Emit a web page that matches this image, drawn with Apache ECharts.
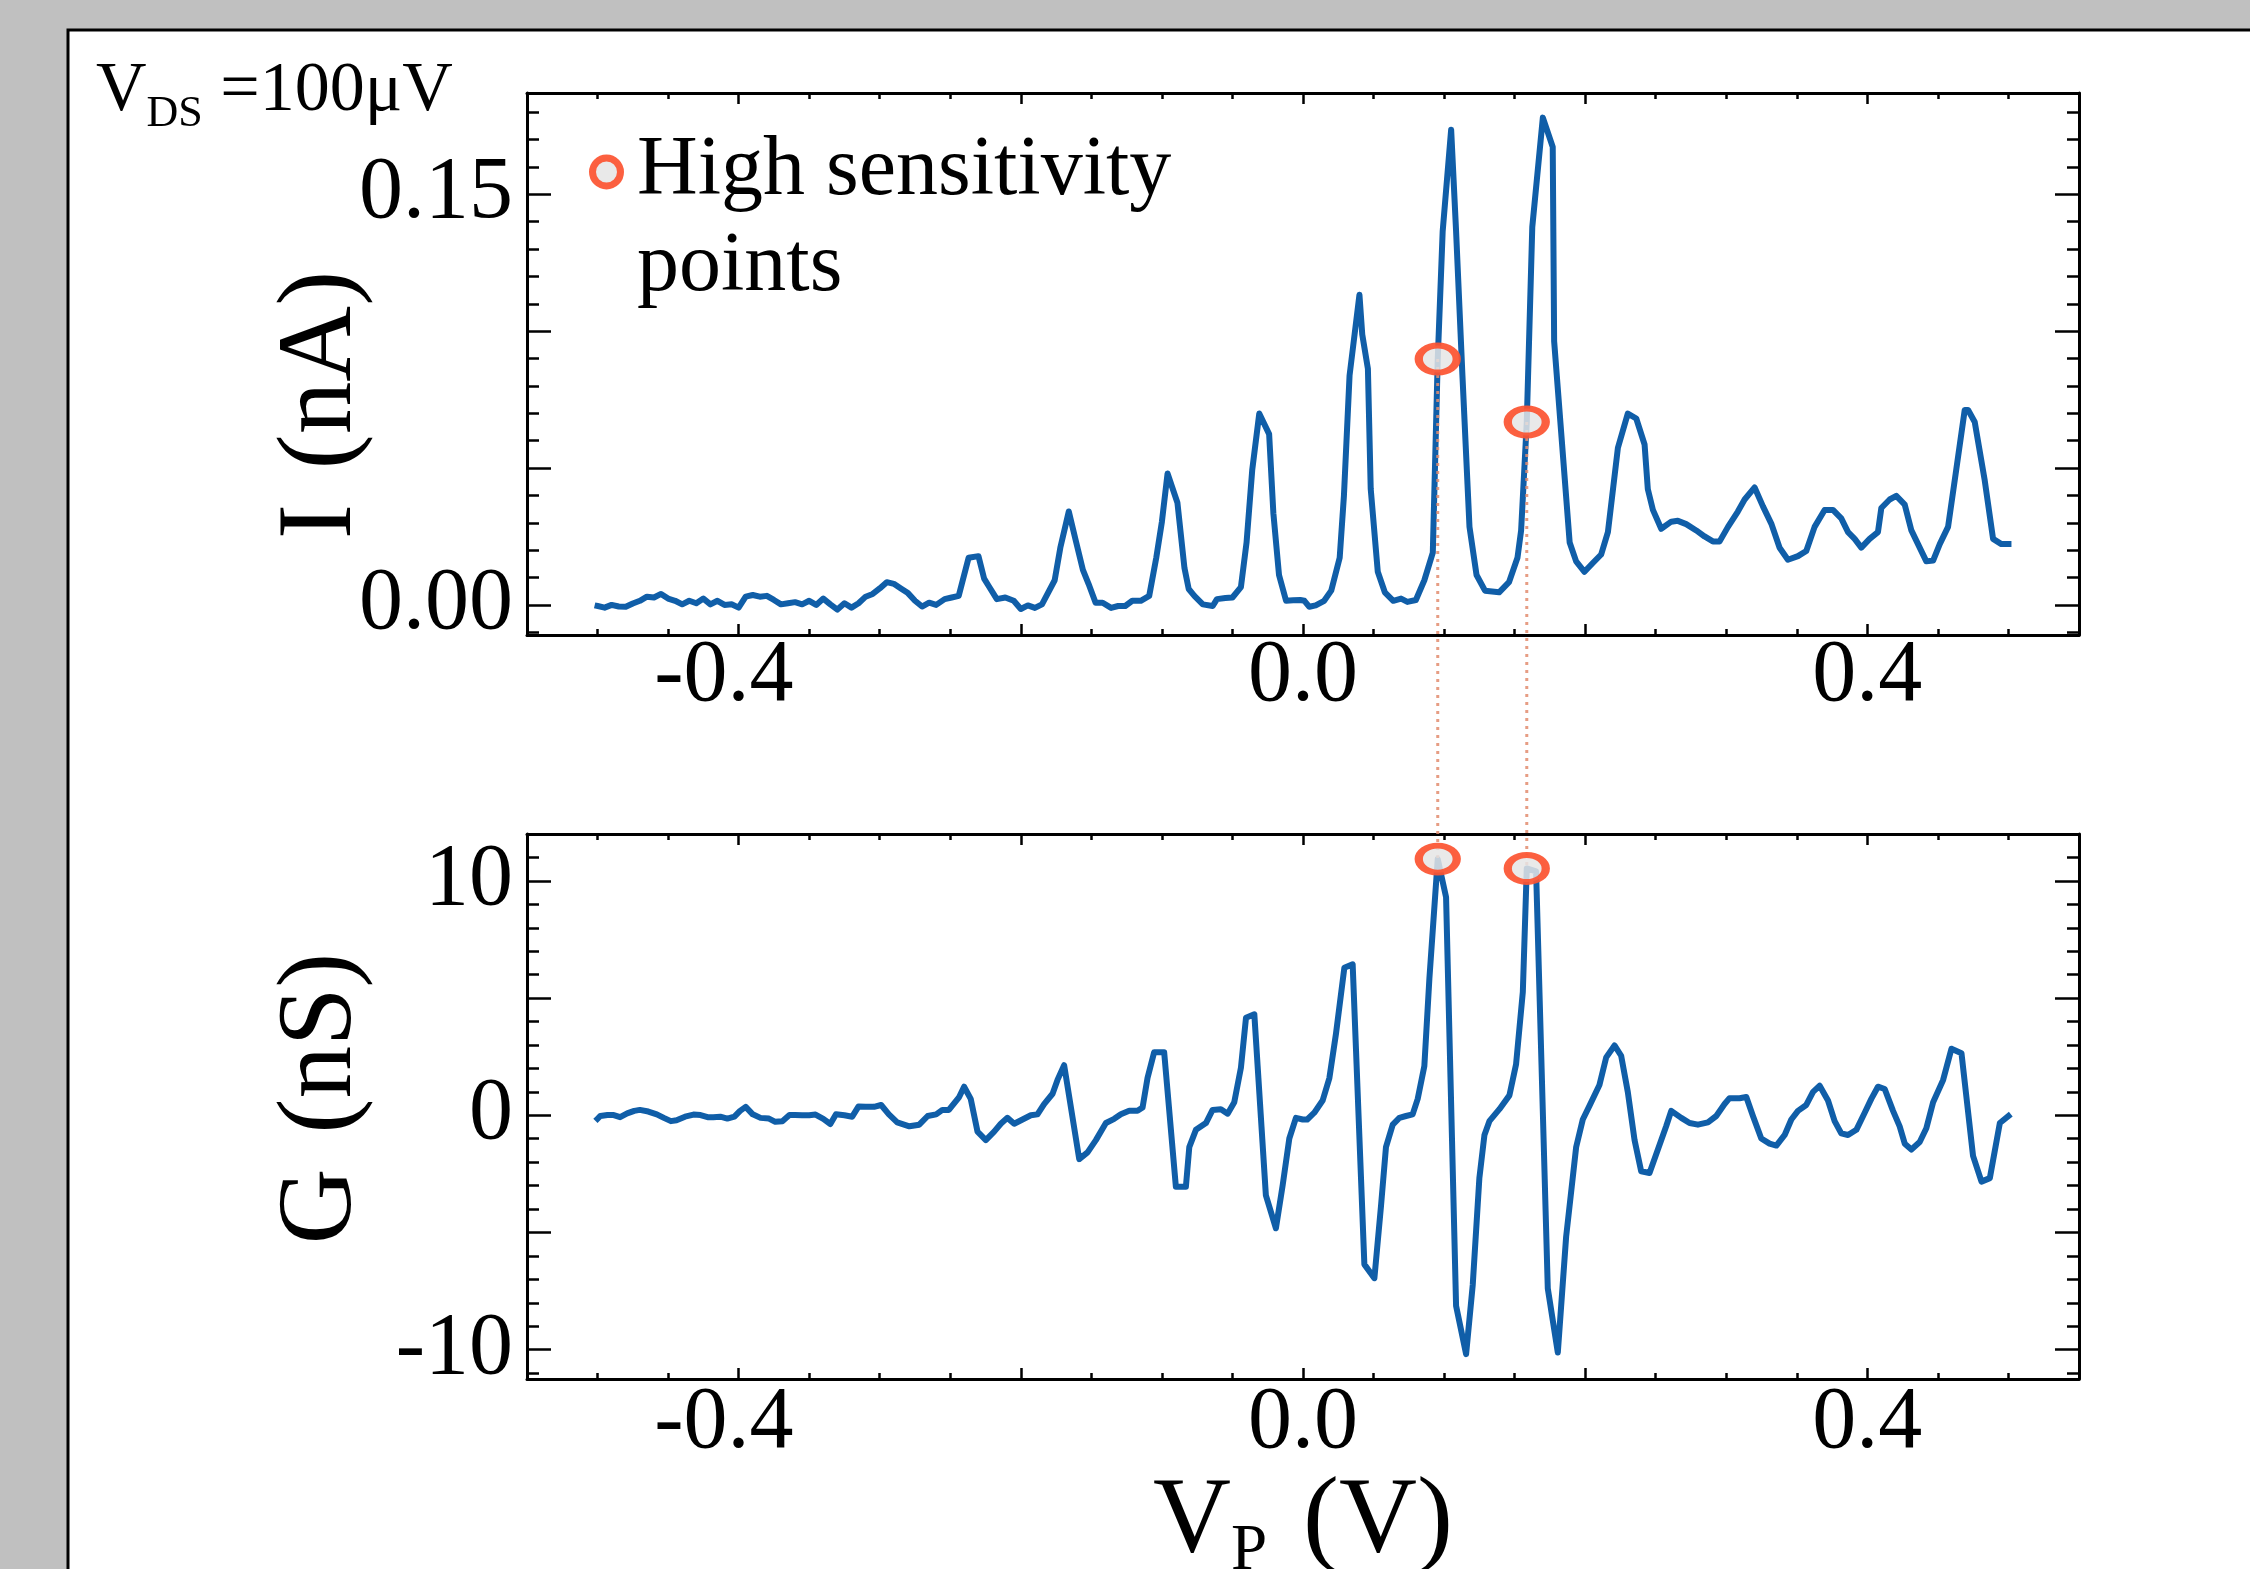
<!DOCTYPE html>
<html><head><meta charset="utf-8">
<script src="https://cdn.jsdelivr.net/npm/echarts@6/dist/echarts.min.js"></script>
<style>html,body{margin:0;padding:0;background:#c0c0c0}#c{width:2250px;height:1569px}</style>
</head><body><div id="c"></div>
<script>
// ---- data ----
const voltageI = [-0.500,-0.495,-0.490,-0.485,-0.480,-0.475,-0.470,-0.465,-0.460,-0.455,-0.450,-0.445,-0.440,-0.435,-0.430,-0.425,-0.420,-0.415,-0.410,-0.405,-0.400,-0.395,-0.390,-0.385,-0.380,-0.375,-0.370,-0.365,-0.360,-0.355,-0.350,-0.345,-0.340,-0.335,-0.330,-0.325,-0.320,-0.315,-0.310,-0.305,-0.300,-0.295,-0.290,-0.285,-0.280,-0.275,-0.270,-0.265,-0.260,-0.254,-0.249,-0.244,-0.237,-0.230,-0.226,-0.223,-0.217,-0.211,-0.205,-0.200,-0.195,-0.190,-0.185,-0.176,-0.172,-0.166,-0.161,-0.156,-0.152,-0.147,-0.142,-0.136,-0.131,-0.126,-0.121,-0.115,-0.109,-0.104,-0.100,-0.096,-0.089,-0.084,-0.081,-0.077,-0.071,-0.064,-0.061,-0.055,-0.050,-0.044,-0.040,-0.036,-0.031,-0.024,-0.021,-0.017,-0.012,-0.007,-0.002,0.001,0.0045,0.009,0.015,0.020,0.026,0.029,0.033,0.040,0.042,0.046,0.048,0.053,0.058,0.064,0.0695,0.074,0.080,0.086,0.092,0.0955,0.099,0.105,0.1085,0.113,0.118,0.123,0.129,0.139,0.146,0.152,0.1546,0.1586,0.1625,0.170,0.177,0.178,0.189,0.1936,0.1995,0.2054,0.2113,0.2161,0.2232,0.2302,0.2362,0.2421,0.2444,0.2480,0.2539,0.2610,0.2657,0.2716,0.2787,0.2846,0.2905,0.2953,0.3012,0.3082,0.3130,0.3201,0.3260,0.3319,0.3378,0.3437,0.3508,0.3567,0.3626,0.3697,0.3756,0.3815,0.3863,0.3910,0.3957,0.4016,0.4075,0.4099,0.4158,0.4205,0.4265,0.4312,0.4359,0.4418,0.4466,0.4513,0.4572,0.4631,0.4690,0.4714,0.4761,0.4832,0.4891,0.4950,0.5000];
const currentI = [-0.0004,-0.0010,0.0000,-0.0006,-0.0007,0.0005,0.0015,0.0030,0.0027,0.0040,0.0023,0.0015,0.0002,0.0015,0.0006,0.0023,0.0002,0.0015,0.0000,0.0002,-0.0010,0.0030,0.0036,0.0030,0.0033,0.0018,0.0002,0.0006,0.0010,0.0002,0.0015,0.0000,0.0023,0.0002,-0.0017,0.0006,-0.0010,0.0006,0.0030,0.0040,0.0060,0.0083,0.0077,0.0060,0.0043,0.0015,-0.0006,0.0008,0.0000,0.0021,0.0027,0.0033,0.0172,0.0178,0.0096,0.0071,0.0021,0.0027,0.0015,-0.0015,-0.0002,-0.0011,0.0002,0.0090,0.0209,0.0341,0.0234,0.0128,0.0077,0.0008,0.0008,-0.0011,-0.0004,-0.0004,0.0015,0.0015,0.0033,0.0172,0.0304,0.0480,0.0373,0.0134,0.0058,0.0033,0.0002,-0.0004,0.0021,0.0025,0.0027,0.0065,0.0228,0.0492,0.0699,0.0624,0.0335,0.0109,0.0015,0.0017,0.0018,0.0015,-0.0007,-0.0002,0.0015,0.0052,0.0172,0.0398,0.0838,0.1133,0.0988,0.0863,0.0423,0.0121,0.0046,0.0015,0.0023,0.0011,0.0018,0.0090,0.0191,0.0898,0.1365,0.1736,0.1365,0.0838,0.0285,0.0109,0.0052,0.0046,0.0083,0.0172,0.0272,0.0668,0.1380,0.1780,0.1673,0.0963,0.0228,0.0159,0.0121,0.0153,0.0184,0.0266,0.0574,0.0699,0.0681,0.0586,0.0423,0.0347,0.0278,0.0304,0.0307,0.0295,0.0272,0.0250,0.0232,0.0232,0.0285,0.0341,0.0385,0.0429,0.0360,0.0297,0.0209,0.0165,0.0178,0.0197,0.0285,0.0347,0.0347,0.0316,0.0266,0.0241,0.0209,0.0241,0.0266,0.0354,0.0385,0.0398,0.0366,0.0272,0.0222,0.0159,0.0162,0.0222,0.0285,0.0498,0.0712,0.0712,0.0668,0.0454,0.0241,0.0222,0.0222];

const voltageG = [-0.500,-0.498,-0.493,-0.4885,-0.484,-0.479,-0.474,-0.470,-0.464,-0.458,-0.453,-0.448,-0.444,-0.438,-0.432,-0.427,-0.422,-0.418,-0.413,-0.408,-0.403,-0.399,-0.395,-0.390,-0.3845,-0.3785,-0.374,-0.369,-0.364,-0.360,-0.355,-0.350,-0.3455,-0.340,-0.335,-0.331,-0.325,-0.3195,-0.315,-0.310,-0.304,-0.299,-0.2935,-0.2876,-0.279,-0.272,-0.266,-0.260,-0.2556,-0.251,-0.2437,-0.2402,-0.2355,-0.2307,-0.2248,-0.2189,-0.2142,-0.2095,-0.2047,-0.1988,-0.1929,-0.1882,-0.1835,-0.1775,-0.1740,-0.1693,-0.1586,-0.1527,-0.1468,-0.1397,-0.1338,-0.1291,-0.1232,-0.1173,-0.1137,-0.1102,-0.1055,-0.0984,-0.0901,-0.0830,-0.0806,-0.0759,-0.0688,-0.0641,-0.0582,-0.0534,-0.0487,-0.0440,-0.0404,-0.0345,-0.0263,-0.0192,-0.0144,-0.0097,-0.0050,-0.0002,0.0030,0.0080,0.0139,0.0187,0.0234,0.0293,0.0352,0.0435,0.0506,0.0553,0.0588,0.0636,0.0683,0.0730,0.0777,0.0813,0.0860,0.0896,0.0955,0.1014,0.1085,0.1156,0.1203,0.1250,0.1286,0.1321,0.1392,0.1463,0.1510,0.1558,0.1586,0.1652,0.1735,0.1806,0.1865,0.1936,0.1983,0.2031,0.2101,0.2149,0.2208,0.2255,0.2302,0.2350,0.2397,0.2456,0.2574,0.2610,0.2681,0.2740,0.2799,0.2870,0.2929,0.2988,0.3023,0.3094,0.3142,0.3189,0.3248,0.3307,0.3355,0.3414,0.3461,0.3508,0.3567,0.3615,0.3662,0.3721,0.3768,0.3815,0.3863,0.3922,0.3981,0.4028,0.4075,0.4123,0.4182,0.4229,0.4265,0.4312,0.4371,0.4418,0.4466,0.4537,0.4596,0.4667,0.4702,0.4749,0.4809,0.4868,0.4939,0.5000];
const conductanceG = [-0.15,-0.03,0.01,0.01,-0.08,0.08,0.19,0.23,0.16,0.04,-0.11,-0.25,-0.21,-0.06,0.03,0.01,-0.08,-0.08,-0.06,-0.14,-0.06,0.19,0.36,0.04,-0.11,-0.14,-0.28,-0.25,0.01,0.01,0.00,0.00,0.03,-0.15,-0.37,0.04,0.00,-0.06,0.38,0.36,0.36,0.44,0.04,-0.30,-0.47,-0.40,-0.03,0.04,0.23,0.23,0.78,1.22,0.70,-0.70,-1.06,-0.70,-0.36,-0.11,-0.36,-0.18,0.00,0.04,0.48,0.92,1.51,2.14,-1.87,-1.58,-1.06,-0.33,-0.15,0.04,0.19,0.19,0.33,1.59,2.69,2.69,-3.05,-3.05,-1.36,-0.62,-0.33,0.23,0.26,0.07,0.56,2.03,4.16,4.31,-3.42,-4.82,-2.98,-0.99,-0.11,-0.18,-0.18,0.11,0.63,1.59,3.49,6.29,6.44,-6.36,-6.95,-3.86,-1.36,-0.40,-0.11,-0.03,0.04,0.70,2.10,5.85,10.93,9.31,-8.13,-10.19,-7.24,-2.68,-0.84,-0.25,0.26,0.85,2.17,5.26,10.53,10.41,-7.39,-10.12,-5.18,-1.36,-0.18,0.41,1.29,2.47,2.98,2.54,1.00,-1.06,-2.39,-2.46,-0.47,0.19,-0.11,-0.33,-0.40,-0.30,-0.03,0.48,0.73,0.73,0.78,-0.03,-0.99,-1.21,-1.29,-0.84,-0.18,0.19,0.44,1.00,1.26,0.63,-0.25,-0.77,-0.84,-0.62,0.11,0.70,1.22,1.12,0.19,-0.47,-1.21,-1.46,-1.14,-0.55,0.56,1.51,2.84,2.65,0.78,-1.73,-2.83,-2.68,-0.33,-0.03];

const markerV = [0.0955, 0.1586];
const markerI = [0.0898, 0.0668];
const markerG = [10.93, 10.53];

const xMajorTicks = [-0.4, -0.2, 0, 0.2, 0.4];
const xMinorTicks = [-0.55,-0.5,-0.45,-0.4,-0.35,-0.3,-0.25,-0.2,-0.15,-0.1,-0.05,0,0.05,0.1,0.15,0.2,0.25,0.3,0.35,0.4,0.45,0.5,0.55];
const xTickLabels = [-0.4, 0, 0.4];
const iMajorTicks = [0, 0.05, 0.1, 0.15];
const iMinorTicks = [-0.01,0,0.01,0.02,0.03,0.04,0.05,0.06,0.07,0.08,0.09,0.1,0.11,0.12,0.13,0.14,0.15,0.16,0.17,0.18];
const iTickLabels = [0, 0.15];
const gMajorTicks = [-10, -5, 0, 5, 10];
const gMinorTicks = [-11,-10,-9,-8,-7,-6,-5,-4,-3,-2,-1,0,1,2,3,4,5,6,7,8,9,10,11,12];
const gTickLabels = [-10, 0, 10];

// ---- styling ----
const FONT = 'Liberation Serif';
const BLUE = '#105ea8';
const ELLIPSE = 'path://M0,50 A50,50 0 1,1 100,50 A50,50 0 1,1 0,50 Z';
const MK_FILL = 'rgba(229,229,229,0.85)';
const MK_EDGE = 'rgba(252,84,50,0.93)';
const SP = '\u2004';
const TICKFS = 88;

const chart = echarts.init(document.getElementById('c'), null, {renderer: 'canvas'});

const lineAx = {show: true, onZero: false, lineStyle: {color: '#000', width: 3}};
const noLine = {show: false, onZero: false};
const tickStyle = {color: '#000', width: 2.5};
const xFmt = v => (v < 0 ? v.toFixed(1) + SP : v.toFixed(1));

function xAxes(grid, labelMargin, extra) {
  const base = {type: 'value', gridIndex: grid, min: -0.55, max: 0.55, splitLine: {show: false}, nameMoveOverlap: false};
  return [
    Object.assign({}, base, {position: 'bottom', axisLine: lineAx,
      axisTick: {show: true, inside: true, length: 11, lineStyle: tickStyle, customValues: xMajorTicks},
      axisLabel: {show: true, customValues: xTickLabels, formatter: xFmt, margin: labelMargin,
        fontSize: TICKFS, lineHeight: TICKFS, fontFamily: FONT, color: '#000'}}, extra || {}),
    Object.assign({}, base, {position: 'bottom', axisLine: noLine,
      axisTick: {show: true, inside: true, length: 6, lineStyle: tickStyle, customValues: xMinorTicks},
      axisLabel: {show: false}}),
    Object.assign({}, base, {position: 'top', axisLine: lineAx,
      axisTick: {show: true, inside: true, length: 11, lineStyle: tickStyle, customValues: xMajorTicks},
      axisLabel: {show: false}}),
    Object.assign({}, base, {position: 'top', axisLine: noLine,
      axisTick: {show: true, inside: true, length: 6, lineStyle: tickStyle, customValues: xMinorTicks},
      axisLabel: {show: false}})
  ];
}
function yAxes(grid, ymin, ymax, major, minor, labels, fmt, extra) {
  const base = {type: 'value', gridIndex: grid, min: ymin, max: ymax, splitLine: {show: false}, nameMoveOverlap: false};
  return [
    Object.assign({}, base, {position: 'left', axisLine: lineAx,
      axisTick: {show: true, inside: true, length: 24, lineStyle: tickStyle, customValues: major},
      axisLabel: {show: true, customValues: labels, formatter: fmt, margin: 14,
        fontSize: TICKFS, lineHeight: TICKFS, fontFamily: FONT, color: '#000'}}, extra || {}),
    Object.assign({}, base, {position: 'left', axisLine: noLine,
      axisTick: {show: true, inside: true, length: 12, lineStyle: tickStyle, customValues: minor},
      axisLabel: {show: false}}),
    Object.assign({}, base, {position: 'right', axisLine: lineAx,
      axisTick: {show: true, inside: true, length: 24, lineStyle: tickStyle, customValues: major},
      axisLabel: {show: false}}),
    Object.assign({}, base, {position: 'right', axisLine: noLine,
      axisTick: {show: true, inside: true, length: 12, lineStyle: tickStyle, customValues: minor},
      axisLabel: {show: false}})
  ];
}

const xs = xAxes(0, -2).concat(xAxes(1, 1, {
  name: '{a|V}{b|P}{a|' + SP + '(V)}', nameLocation: 'middle', nameGap: 90,
  nameTextStyle: {fontFamily: FONT, fontSize: 108, color: '#000',
    rich: {a: {fontFamily: FONT, fontSize: 108, lineHeight: 108, color: '#000'},
           b: {fontFamily: FONT, fontSize: 65, lineHeight: 65, color: '#000', padding: [58, 0, 0, 0]}}}
}));
const ys = yAxes(0, -0.011, 0.187, iMajorTicks, iMinorTicks, iTickLabels, v => v.toFixed(2), {
  name: 'I' + SP + '(nA)', nameLocation: 'middle', nameRotate: 90, nameGap: 152,
  nameTextStyle: {fontFamily: FONT, fontSize: 105, lineHeight: 105, color: '#000', padding: [0, 82, 0, 0]}
}).concat(yAxes(1, -11.25, 12.0, gMajorTicks, gMinorTicks, gTickLabels, v => String(v), {
  name: 'G' + SP + '(nS)', nameLocation: 'middle', nameRotate: 90, nameGap: 152,
  nameTextStyle: {fontFamily: FONT, fontSize: 105, lineHeight: 105, color: '#000', padding: [0, 0, 0, 16]}
}));

const curveStyle = {color: BLUE, width: 6, join: 'round', cap: 'square'};
const markerStyle = {color: MK_FILL, borderColor: MK_EDGE, borderWidth: 7, opacity: 1};
const LEG = 'High sensitivity points';

const baseSeries = [
  {type: 'line', name: 'I', xAxisIndex: 0, yAxisIndex: 0, symbol: 'none', showSymbol: false,
   data: voltageI.map((v, i) => [v, currentI[i]]), lineStyle: curveStyle, itemStyle: {color: BLUE}, z: 2},
  {type: 'line', name: 'G', xAxisIndex: 4, yAxisIndex: 4, symbol: 'none', showSymbol: false,
   data: voltageG.map((v, i) => [v, conductanceG[i]]), lineStyle: curveStyle, itemStyle: {color: BLUE}, z: 2},
  {type: 'scatter', name: LEG, xAxisIndex: 0, yAxisIndex: 0, symbol: ELLIPSE, symbolSize: [38, 27],
   data: markerV.map((v, i) => [v, markerI[i]]), itemStyle: markerStyle, z: 5},
  {type: 'scatter', name: LEG, xAxisIndex: 4, yAxisIndex: 4, symbol: ELLIPSE, symbolSize: [38, 27],
   data: markerV.map((v, i) => [v, markerG[i]]), itemStyle: markerStyle, z: 5}
];

const option = {
  animation: false,
  backgroundColor: '#c0c0c0',
  textStyle: {fontFamily: FONT},
  graphic: [{type: 'rect', z: -1, silent: true, shape: {x: 68, y: 30, width: 2400, height: 1700},
    style: {fill: '#fff', stroke: '#000', lineWidth: 3}}],
  title: {text: '{a|V}{b|DS}{a| =100\u03bcV}', left: 96, top: 52, padding: 0,
    textStyle: {fontFamily: FONT, fontSize: 70, fontWeight: 'normal', color: '#000',
      rich: {a: {fontFamily: FONT, fontSize: 70, lineHeight: 80, color: '#000'},
             b: {fontFamily: FONT, fontSize: 44, lineHeight: 44, color: '#000', padding: [44, 0, 0, 0]}}}},
  legend: {data: [{name: LEG, icon: ELLIPSE}], left: 589, top: 28, padding: 0, orient: 'vertical',
    itemWidth: 29, itemHeight: 28, selectedMode: false,
    itemStyle: {color: MK_FILL, borderColor: MK_EDGE, borderWidth: 7, opacity: 1},
    formatter: () => ' \nHigh sensitivity\npoints',
    textStyle: {fontFamily: FONT, fontSize: 84, lineHeight: 96, color: '#000', padding: [0, 0, 0, 11]}},
  grid: [
    {left: 527, right: 171, top: 93, height: 542, containLabel: false, outerBoundsMode: 'none'},
    {left: 527, right: 171, top: 834, height: 545, containLabel: false, outerBoundsMode: 'none'}
  ],
  xAxis: xs,
  yAxis: ys,
  series: baseSeries
};
chart.setOption(option);

// dotted connectors from each I marker down to its G marker, positioned through the chart's own scales
const connectors = markerV.map((v, i) => {
  const px = chart.convertToPixel({seriesIndex: 3}, [v, markerG[i]]);
  const d = chart.convertFromPixel({seriesIndex: 2}, px);
  return {type: 'line', xAxisIndex: 0, yAxisIndex: 0, clip: false, silent: true, symbol: 'none',
    data: [[v, markerI[i]], [v, d[1]]],
    lineStyle: {color: 'rgba(226,140,110,0.85)', width: 3, type: [3, 5]}, z: 3};
});
chart.setOption({series: baseSeries.concat(connectors)});
</script></body></html>
